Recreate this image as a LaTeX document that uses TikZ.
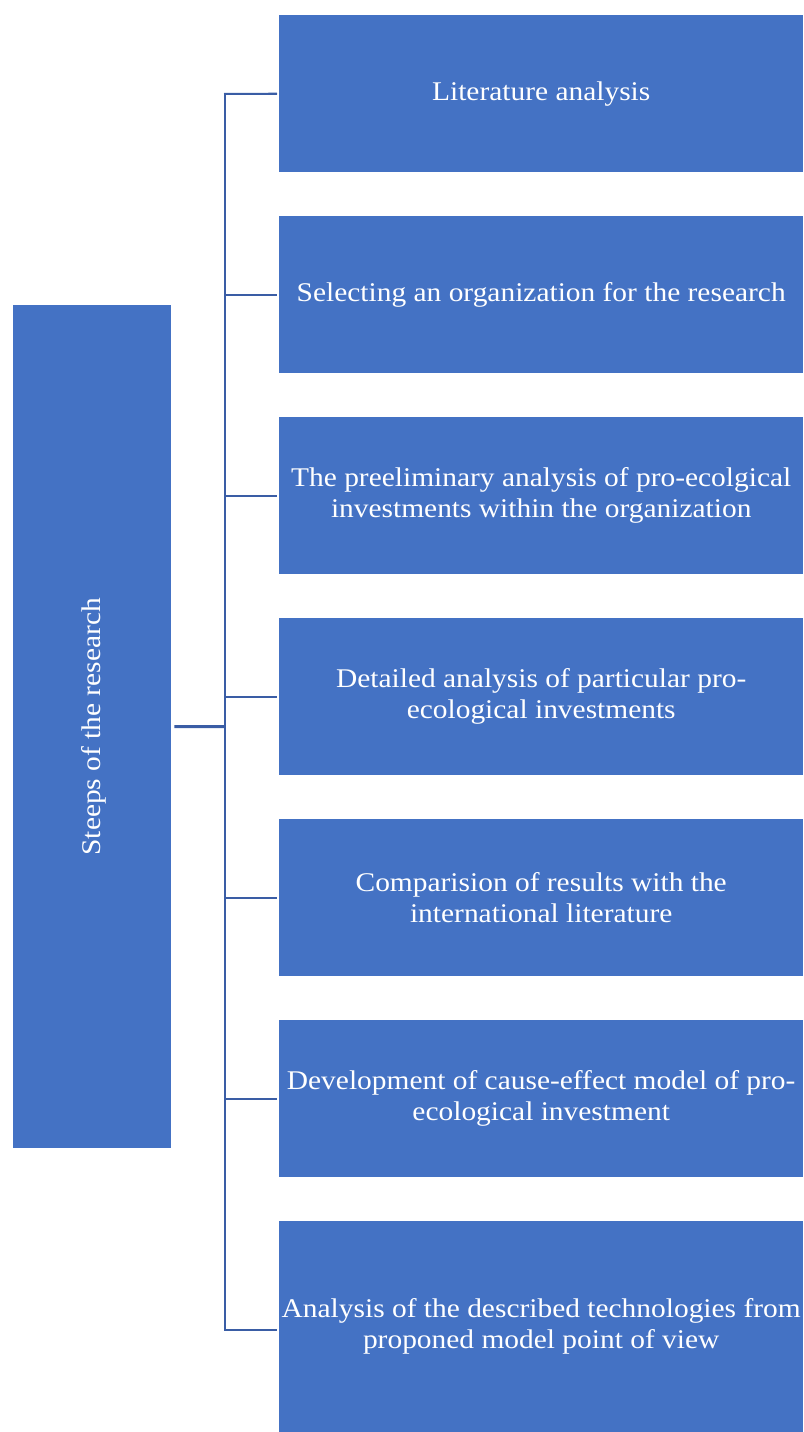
\documentclass[tikz,border=0pt]{standalone}
\usepackage{fontspec}
\setmainfont[FakeStretch=1.09]{Liberation Serif}
\definecolor{boxblue}{HTML}{4472C4}
\definecolor{lineblue}{HTML}{3A5DA5}
\begin{document}
\begin{tikzpicture}[x=1pt,y=-1pt,
  txt/.style={font=\fontsize{27}{31}\selectfont},
  stepbox/.style={fill=boxblue,draw=none,text=white,align=center,txt,
    minimum width=524pt,minimum height=157pt,anchor=north west,inner sep=0pt},
  branch/.style={draw=lineblue,line width=2pt},
  trunk/.style={draw=lineblue,line width=2.5pt}]
\useasboundingbox (0,0) rectangle (803,1432);
\node[fill=boxblue,minimum width=158pt,minimum height=843pt,inner sep=0pt,anchor=north west] (L) at (13,305) {};
\node[text=white,rotate=90,txt] (Lt) at ([xshift=2pt]L.center) {Steeps of the research};
\node[stepbox] (b1) at (279,15) {Literature analysis};
\node[stepbox] (b2) at (279,216) {Selecting an organization for the research};
\node[stepbox] (b3) at (279,417) {The preeliminary analysis of pro-ecolgical\\investments within the organization};
\node[stepbox] (b4) at (279,618) {Detailed analysis of particular pro-\\ecological investments};
\node[stepbox] (b5) at (279,819) {Comparision of results with the\\international literature};
\node[stepbox] (b6) at (279,1020) {Development of cause-effect model of pro-\\ecological investment};
\node[stepbox,minimum height=211pt] (b7) at (279,1221) {Analysis of the described technologies from\\proponed model point of view};
\coordinate (j) at (225,726.5);
\coordinate (jt) at (225,94);
\coordinate (jb) at (225,1330);
\draw[draw=lineblue,line width=3pt] ([xshift=3pt]L.east) -- (j);
\draw[trunk] (jt) -- (jb);
\foreach \b in {b1,b2,b3,b4,b5,b6}
  \draw[branch] (\b.west -| j) ++(-1pt,0) -- ([xshift=-2pt]\b.west);
\draw[branch] (jb) ++(-1pt,0) -- ([xshift=-2pt]b7.west |- jb);
\draw[branch] (jt) ++(-1pt,0) -- ([xshift=-2pt]b1.west);
\end{tikzpicture}
\end{document}
